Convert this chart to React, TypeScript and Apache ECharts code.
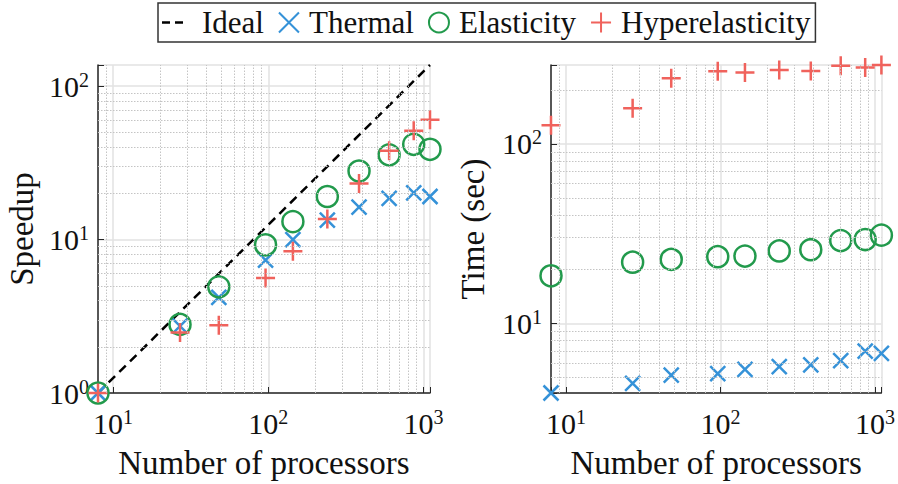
import React, { useEffect, useRef } from 'react';
import * as echarts from 'echarts';

const processors = [8, 27, 48, 96, 144, 240, 384, 600, 864, 1100];
const speedupThermal = [1, 2.73, 4.2, 7.35, 10, 13.4, 16.3, 18.6, 20.2, 19.1];
const speedupElasticity = [1, 2.8, 4.92, 9.25, 13.1, 19.1, 28, 35.7, 41.8, 38.8];
const speedupHyper = [1, 2.48, 2.76, 5.63, 8.4, 13.6, 23.2, 37.9, 51.2, 60.5];
const timeThermal = [4.09, 4.63, 5.14, 5.24, 5.53, 5.74, 5.86, 6.19, 7.0, 6.8];
const timeElasticity = [18.4, 21.9, 22.7, 23.5, 23.7, 25.3, 25.7, 28.9, 29.3, 31.0];
const timeHyper = [127, 158, 232, 254, 250, 258, 255, 272, 266, 275];
const idealProcessors = [8, 1100];
const idealSpeedup = [1, 137.5];

const minorX = [9, 20, 30, 40, 50, 60, 70, 80, 90, 200, 300, 400, 500, 600, 700, 800, 900];
const minorYSpeedup = [2, 3, 4, 5, 6, 7, 8, 9, 20, 30, 40, 50, 60, 70, 80, 90];
const minorYTime = [5, 6, 7, 8, 9, 20, 30, 40, 50, 60, 70, 80, 90, 200];

const FONT = "'Liberation Serif', 'DejaVu Serif', serif";
const TXT = '#111111';
const AXIS = '#262626';
const BLUE = '#3592d8';
const GREEN = '#229a4c';
const RED = '#f0625c';

const CROSS = 'path://M0,0L10,10M10,0L0,10';
const PLUS = 'path://M5,0L5,10M0,5L10,5';
const DASH_ICON = 'path://M0,0h8v2.6h-8zM13,0h8v2.6h-8zM30,0L30,2.6';

const labelRich = {
  b: { fontSize: 30, fontFamily: FONT, color: TXT },
  s: { fontSize: 20, fontFamily: FONT, color: TXT, padding: [0, 0, 13, 0] },
};

const powLabel = (v: number) => {
  const e = Math.log10(v);
  const r = Math.round(e);
  return Math.abs(e - r) < 1e-6 ? `{b|10}{s|${r}}` : '';
};

const zip = (xs: number[], ys: number[]) => xs.map((x, i) => [x, ys[i]]);

const makeX = (gridIndex: number) => ({
  type: 'log',
  logBase: 10,
  gridIndex,
  min: 8,
  max: 1100,
  name: 'Number of processors',
  nameLocation: 'middle',
  nameGap: 53,
  nameTextStyle: { fontFamily: FONT, fontSize: 33, color: TXT },
  axisLine: { show: true, onZero: false, lineStyle: { color: AXIS, width: 1.5 } },
  axisTick: { show: true, inside: true, length: 6, lineStyle: { color: AXIS, width: 1 } },
  axisLabel: { formatter: powLabel, rich: labelRich, margin: 14, fontFamily: FONT },
  splitLine: { show: true, lineStyle: { color: '#e2e2e2', width: 1.5 } },
});

const makeY = (gridIndex: number, min: number, max: number, name: string, gap: number) => ({
  type: 'log',
  logBase: 10,
  gridIndex,
  min,
  max,
  name,
  nameLocation: 'middle',
  nameGap: gap,
  nameRotate: 90,
  nameTextStyle: { fontFamily: FONT, fontSize: 33, color: TXT },
  axisLine: { show: true, onZero: false, lineStyle: { color: AXIS, width: 1.5 } },
  axisTick: { show: true, inside: true, length: 6, lineStyle: { color: AXIS, width: 1 } },
  axisLabel: { formatter: powLabel, rich: labelRich, margin: 9, fontFamily: FONT },
  splitLine: { show: true, lineStyle: { color: '#e2e2e2', width: 1.5 } },
});

const minorLines = (idx: number, ys: number[]) => ({
  type: 'line',
  name: '__grid' + idx,
  xAxisIndex: idx,
  yAxisIndex: idx,
  data: [],
  z: 1,
  silent: true,
  markLine: {
    silent: true,
    symbol: ['none', 'none'],
    label: { show: false },
    emphasis: { disabled: true },
    lineStyle: { color: '#c4c4c4', type: [1.5, 1.5], width: 1 },
    data: [...minorX.map((v) => ({ xAxis: v })), ...ys.map((v) => ({ yAxis: v }))],
  },
});

const scatter = (name: string, idx: number, ys: number[], symbol: string, size: number, color: string) => ({
  type: 'scatter',
  name,
  xAxisIndex: idx,
  yAxisIndex: idx,
  data: zip(processors, ys),
  symbol,
  symbolSize: size,
  z: 4,
  itemStyle: { color: 'rgba(0,0,0,0)', borderColor: color, borderWidth: 2.5, opacity: 1 },
  emphasis: { disabled: true },
});

export default function App() {
  const ref = useRef<HTMLDivElement>(null);
  useEffect(() => {
    if (!ref.current) return;
    const chart = echarts.init(ref.current, undefined, { renderer: 'svg' });
    chart.setOption({
      animation: false,
      backgroundColor: '#ffffff',
      textStyle: { fontFamily: FONT },
      legend: {
        data: [
          {
            name: 'Ideal',
            icon: DASH_ICON,
            itemStyle: { color: '#000000', borderWidth: 0 },
            textStyle: { padding: [0, 0, 0, 5] },
          },
          'Thermal',
          'Elasticity',
          'Hyperelasticity',
        ],
        left: 158,
        top: 3,
        borderColor: '#333333',
        borderWidth: 1.5,
        borderRadius: 0,
        padding: [4, 5, 4, 4],
        itemGap: 14,
        itemWidth: 30,
        itemHeight: 20,
        backgroundColor: '#ffffff',
        selectedMode: false,
        textStyle: { fontFamily: FONT, fontSize: 31, color: TXT },
      },
      grid: [
        { left: 98, top: 65, width: 332, height: 341, containLabel: false },
        { left: 551, top: 65, width: 333, height: 342, containLabel: false },
      ],
      xAxis: [makeX(0), makeX(1)],
      yAxis: [
        makeY(0, 1, 137.5, 'Speedup', 60),
        makeY(1, 4.09, 275, 'Time (sec)', 62),
      ],
      series: [
        minorLines(0, minorYSpeedup),
        minorLines(1, minorYTime),
        {
          type: 'line',
          name: 'Ideal',
          xAxisIndex: 0,
          yAxisIndex: 0,
          data: zip(idealProcessors, idealSpeedup),
          symbol: 'none',
          z: 3,
          lineStyle: { color: '#000000', width: 2.5, type: [9, 6] },
          itemStyle: { color: '#000000' },
          emphasis: { disabled: true },
        },
        scatter('Thermal', 0, speedupThermal, CROSS, 15, BLUE),
        scatter('Elasticity', 0, speedupElasticity, 'circle', 21, GREEN),
        scatter('Hyperelasticity', 0, speedupHyper, PLUS, 19, RED),
        scatter('Thermal', 1, timeThermal, CROSS, 15, BLUE),
        scatter('Elasticity', 1, timeElasticity, 'circle', 21, GREEN),
        scatter('Hyperelasticity', 1, timeHyper, PLUS, 19, RED),
      ],
    });
    return () => chart.dispose();
  }, []);
  return (
    <div
      ref={ref}
      style={{ position: 'fixed', left: 0, top: 0, width: 898, height: 484, background: '#fff' }}
    />
  );
}
